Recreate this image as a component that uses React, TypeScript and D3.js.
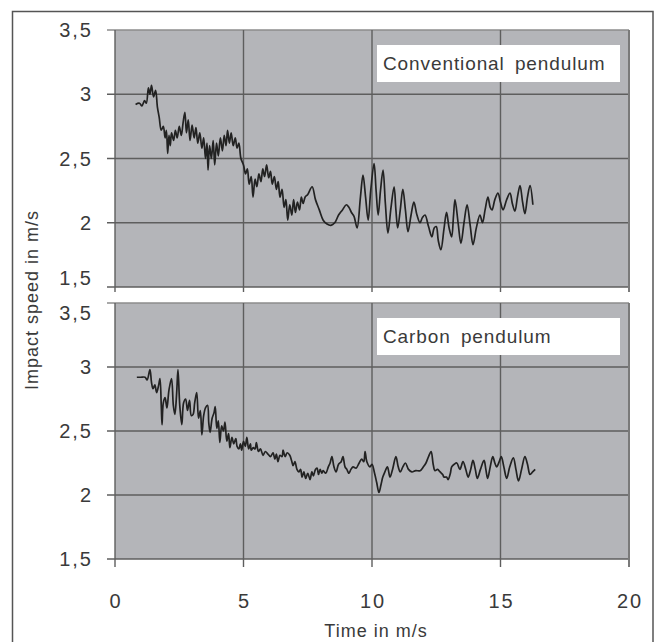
import React, { useEffect, useRef } from 'react';
import * as d3 from 'd3';

// speed readings, conventional pendulum
const conventionalTime = [
  0.8, 0.95, 1.05, 1.15, 1.22, 1.3, 1.36, 1.42, 1.5, 1.58, 1.65, 1.72, 1.8, 1.88, 1.95, 2.0, 2.05, 2.1, 2.15, 2.2,
  2.28, 2.35, 2.42, 2.5, 2.58, 2.65, 2.72, 2.78, 2.85, 2.92, 3.0, 3.08, 3.15, 3.22, 3.3, 3.38, 3.45, 3.52, 3.58, 3.62,
  3.68, 3.75, 3.82, 3.88, 3.95, 4.02, 4.1, 4.18, 4.25, 4.32, 4.38, 4.45, 4.52, 4.6, 4.68, 4.75, 4.82, 4.9, 5.0, 5.08,
  5.15, 5.22, 5.3, 5.37, 5.45, 5.52, 5.6, 5.68, 5.75, 5.82, 5.9, 5.98, 6.05, 6.12, 6.2, 6.28, 6.35, 6.42, 6.5, 6.58,
  6.65, 6.72, 6.8, 6.88, 6.95, 7.02, 7.1, 7.18, 7.25, 7.32, 7.4, 7.5, 7.67, 7.8, 7.95, 8.1, 8.25, 8.4, 8.55, 8.7,
  8.85, 9.0, 9.1, 9.2, 9.3, 9.42, 9.55, 9.65, 9.75, 9.85, 9.95, 10.08, 10.16, 10.24, 10.33, 10.43, 10.52, 10.62, 10.74, 10.86,
  10.93, 11.0, 11.1, 11.2, 11.3, 11.4, 11.52, 11.63, 11.75, 11.87, 11.96, 12.06, 12.2, 12.33, 12.42, 12.5, 12.58, 12.68, 12.8, 12.9,
  13.0, 13.1, 13.17, 13.23, 13.35, 13.46, 13.58, 13.7, 13.82, 13.93, 14.06, 14.2, 14.3, 14.4, 14.51, 14.6, 14.67, 14.78, 14.9, 15.0,
  15.1, 15.24, 15.37, 15.46, 15.56, 15.66, 15.76, 15.86, 15.95, 16.05, 16.15, 16.26,
];
const conventionalSpeed = [
  2.92, 2.93, 2.91, 2.95, 2.93, 3.05, 3.0, 3.07, 2.98, 3.03, 2.9, 2.82, 2.72, 2.75, 2.66, 2.72, 2.54, 2.68, 2.6, 2.7,
  2.64, 2.72, 2.66, 2.75, 2.68, 2.78, 2.86, 2.7, 2.8, 2.64, 2.76, 2.66, 2.74, 2.62, 2.7, 2.58, 2.66, 2.5, 2.62, 2.41,
  2.6, 2.5, 2.64, 2.45, 2.62, 2.52, 2.66, 2.56, 2.68, 2.6, 2.72, 2.62, 2.7, 2.6, 2.66, 2.58, 2.62, 2.5, 2.45, 2.38,
  2.42, 2.3, 2.36, 2.2, 2.34, 2.28, 2.38, 2.32, 2.42, 2.36, 2.45, 2.35, 2.4, 2.3, 2.36, 2.26, 2.32, 2.2, 2.26, 2.12,
  2.18, 2.02, 2.14, 2.06, 2.18, 2.08, 2.16, 2.1, 2.2, 2.15, 2.2, 2.22, 2.28, 2.18, 2.1, 2.02, 1.99, 1.98, 2.0, 2.06,
  2.1, 2.14, 2.12, 2.08, 2.05, 1.96, 2.2, 2.37, 2.2, 2.02, 2.25, 2.46, 2.25, 2.06, 2.25, 2.41, 2.15, 1.92, 2.12, 2.28,
  2.1, 1.96, 2.1, 2.26, 2.1, 1.93, 2.06, 2.16, 2.06, 2.0, 2.04, 2.06, 1.97, 1.89, 1.96, 1.97, 1.86, 1.79, 1.95, 2.08,
  1.96, 1.89, 2.05, 2.18, 2.0, 1.84, 2.0, 2.14, 1.98, 1.83, 1.96, 2.06, 2.0, 2.1, 2.2, 2.12, 2.1, 2.18, 2.23, 2.16,
  2.1, 2.18, 2.23, 2.15, 2.09, 2.2, 2.29, 2.16, 2.07, 2.2, 2.29, 2.14,
];

// speed readings, carbon pendulum
const carbonTime = [
  0.85, 1.0, 1.17, 1.25, 1.36, 1.42, 1.48, 1.55, 1.62, 1.7, 1.75, 1.8, 1.83, 1.88, 1.95, 2.02, 2.1, 2.2, 2.27, 2.33,
  2.4, 2.45, 2.52, 2.6, 2.67, 2.75, 2.82, 2.9, 2.97, 3.04, 3.1, 3.18, 3.25, 3.32, 3.38, 3.45, 3.52, 3.6, 3.65, 3.7,
  3.78, 3.85, 3.9, 3.96, 4.02, 4.08, 4.15, 4.22, 4.28, 4.35, 4.42, 4.47, 4.55, 4.62, 4.7, 4.75, 4.82, 4.88, 4.93, 5.0,
  5.07, 5.13, 5.2, 5.27, 5.3, 5.38, 5.45, 5.5, 5.58, 5.66, 5.76, 5.85, 5.95, 6.05, 6.15, 6.22, 6.28, 6.34, 6.42, 6.5,
  6.54, 6.62, 6.7, 6.8, 6.87, 6.93, 7.0, 7.08, 7.15, 7.22, 7.28, 7.35, 7.42, 7.5, 7.59, 7.66, 7.72, 7.8, 7.86, 7.92,
  7.98, 8.05, 8.1, 8.2, 8.3, 8.37, 8.44, 8.52, 8.6, 8.7, 8.8, 8.87, 8.95, 9.02, 9.1, 9.18, 9.26, 9.38, 9.5, 9.6,
  9.68, 9.73, 9.8, 9.92, 10.0, 10.1, 10.18, 10.27, 10.35, 10.42, 10.5, 10.6, 10.7, 10.8, 10.93, 11.02, 11.1, 11.2, 11.3, 11.42,
  11.55, 11.7, 11.87, 12.0, 12.1, 12.2, 12.3, 12.38, 12.45, 12.55, 12.65, 12.75, 12.8, 12.9, 12.96, 13.05, 13.1, 13.2, 13.3, 13.42,
  13.54, 13.65, 13.74, 13.84, 13.93, 14.02, 14.1, 14.22, 14.36, 14.43, 14.5, 14.6, 14.7, 14.78, 14.85, 14.95, 15.03, 15.13, 15.24, 15.36,
  15.5, 15.6, 15.7, 15.82, 15.95, 16.05, 16.15, 16.25, 16.35,
];
const carbonSpeed = [
  2.92, 2.92, 2.92, 2.9, 2.98, 2.88, 2.83, 2.86, 2.8, 2.86, 2.91, 2.7, 2.55, 2.72, 2.76, 2.68, 2.82, 2.91, 2.7, 2.63,
  2.8, 2.98, 2.7, 2.55, 2.72, 2.75, 2.66, 2.74, 2.62, 2.63, 2.72, 2.8, 2.6, 2.66, 2.47, 2.62, 2.68, 2.7, 2.56, 2.49,
  2.6, 2.64, 2.69, 2.52, 2.58, 2.41, 2.54, 2.5, 2.57, 2.42, 2.48, 2.37, 2.45, 2.4, 2.44, 2.38, 2.36, 2.4, 2.35, 2.42,
  2.38, 2.45, 2.36, 2.4, 2.35, 2.37, 2.36, 2.41, 2.34, 2.36, 2.31, 2.34, 2.32, 2.3, 2.33, 2.28, 2.32, 2.26, 2.31, 2.3,
  2.35, 2.3, 2.33, 2.31, 2.27, 2.23, 2.26, 2.2, 2.18, 2.2, 2.14, 2.18, 2.13, 2.17, 2.12, 2.18, 2.15, 2.2, 2.21, 2.16,
  2.2, 2.17, 2.19, 2.17, 2.22, 2.25, 2.3, 2.22, 2.18, 2.24, 2.26, 2.3, 2.22, 2.2, 2.17, 2.2, 2.22, 2.21, 2.25, 2.28,
  2.26, 2.34, 2.26, 2.22, 2.24, 2.17, 2.1, 2.02, 2.08, 2.14, 2.18, 2.22, 2.14, 2.2, 2.3, 2.22, 2.18, 2.22, 2.25, 2.2,
  2.18, 2.19, 2.19, 2.22, 2.25, 2.3, 2.34, 2.24, 2.19, 2.2, 2.18, 2.16, 2.14, 2.14, 2.12, 2.17, 2.22, 2.24, 2.25, 2.2,
  2.26, 2.2, 2.14, 2.2, 2.27, 2.2, 2.13, 2.2, 2.27, 2.2, 2.13, 2.22, 2.3, 2.25, 2.22, 2.26, 2.3, 2.22, 2.13, 2.22,
  2.29, 2.2, 2.11, 2.2, 2.3, 2.24, 2.16, 2.18, 2.2,
];

const xTicks = [0, 5, 10, 15, 20];
const yTicks = [1.5, 2, 2.5, 3, 3.5];
const yTickLabels = ['1,5', '2', '2,5', '3', '3,5'];

const panels = [
  { label: 'Conventional pendulum', time: conventionalTime, speed: conventionalSpeed },
  { label: 'Carbon pendulum', time: carbonTime, speed: carbonSpeed },
];

const App = () => {
  const svgRef = useRef(null);

  useEffect(() => {
    const width = 657;
    const height = 642;
    const font = '"Liberation Sans", Arial, sans-serif';
    const textColor = '#3a3a3a';

    const svg = d3.select(svgRef.current);
    svg.selectAll('*').remove();
    svg.attr('width', width).attr('height', height);

    svg.append('rect').attr('width', width).attr('height', height).attr('fill', '#fff');
    // outer frame (open at the bottom edge of the picture)
    svg
      .append('rect')
      .attr('x', 12.5)
      .attr('y', 11.5)
      .attr('width', 640.5)
      .attr('height', 660)
      .attr('fill', 'none')
      .attr('stroke', '#555')
      .attr('stroke-width', 1.5);

    const x = d3.scaleLinear().domain([0, 20]).range([115, 629]);
    const plotTops = [30, 303];
    const plotBottoms = [287, 559];

    panels.forEach((panel, i) => {
      const y = d3.scaleLinear().domain([1.5, 3.5]).range([plotBottoms[i], plotTops[i]]);
      const g = svg.append('g');
      const isLast = i === panels.length - 1;

      g.append('rect')
        .attr('x', x(0))
        .attr('y', y(3.5))
        .attr('width', x(20) - x(0))
        .attr('height', y(1.5) - y(3.5))
        .attr('fill', '#b4b5b9');

      // horizontal grid + left ticks
      yTicks.forEach((t, k) => {
        g.append('line')
          .attr('x1', x(0) - 8)
          .attr('x2', x(20))
          .attr('y1', y(t))
          .attr('y2', y(t))
          .attr('stroke', t === 3.5 ? '#8c8c8c' : '#5e5e5e')
          .attr('stroke-width', 1.4);
        let dy = 0;
        if (i === 0 && t === 1.5) dy = -9;
        if (i === 1 && t === 3.5) dy = 10;
        g.append('text')
          .attr('x', 93)
          .attr('y', y(t) + dy)
          .attr('dy', '0.36em')
          .attr('text-anchor', 'end')
          .attr('font-family', font)
          .attr('font-size', 20)
          .attr('letter-spacing', 2)
          .attr('fill', textColor)
          .text(yTickLabels[k]);
      });

      // vertical grid, ticks below the plot
      xTicks.forEach((t) => {
        g.append('line')
          .attr('x1', x(t))
          .attr('x2', x(t))
          .attr('y1', y(3.5))
          .attr('y2', y(1.5) + (isLast ? 8 : 5))
          .attr('stroke', t === 20 ? '#7a7a7a' : '#5e5e5e')
          .attr('stroke-width', t === 20 ? 2 : 1.4);
      });

      const pts = panel.time.map((t, k) => [t, panel.speed[k]]);
      const line = d3
        .line()
        .curve(d3.curveCatmullRom.alpha(0.5))
        .x((d) => x(d[0]))
        .y((d) => y(d[1]));
      g.append('path')
        .attr('d', line(pts))
        .attr('fill', 'none')
        .attr('stroke', '#222')
        .attr('stroke-width', 1.7)
        .attr('stroke-linejoin', 'round');

      // label box
      g.append('rect')
        .attr('x', 377)
        .attr('y', y(3.5) + 15)
        .attr('width', 243)
        .attr('height', 37)
        .attr('fill', '#fff');
      g.append('text')
        .attr('x', 383)
        .attr('y', y(3.5) + 40)
        .attr('font-family', font)
        .attr('font-size', 19)
        .attr('letter-spacing', 0.9)
        .attr('word-spacing', 4)
        .attr('fill', textColor)
        .text(panel.label);

      if (isLast) {
        xTicks.forEach((t) => {
          g.append('text')
            .attr('x', x(t) + 1)
            .attr('y', 608)
            .attr('text-anchor', 'middle')
            .attr('font-family', font)
            .attr('font-size', 20)
            .attr('letter-spacing', 2)
            .attr('fill', textColor)
            .text(t);
        });
      }
    });

    svg
      .append('text')
      .attr('x', 376)
      .attr('y', 637)
      .attr('text-anchor', 'middle')
      .attr('font-family', font)
      .attr('font-size', 18)
      .attr('letter-spacing', 1)
      .attr('fill', textColor)
      .text('Time in m/s');

    svg
      .append('text')
      .attr('transform', 'translate(38,300) rotate(-90)')
      .attr('text-anchor', 'middle')
      .attr('font-family', font)
      .attr('font-size', 18)
      .attr('letter-spacing', 1)
      .attr('fill', textColor)
      .text('Impact speed in m/s');
  }, []);

  return <svg ref={svgRef} style={{ position: 'absolute', left: 0, top: 0 }}></svg>;
};

export default App;
